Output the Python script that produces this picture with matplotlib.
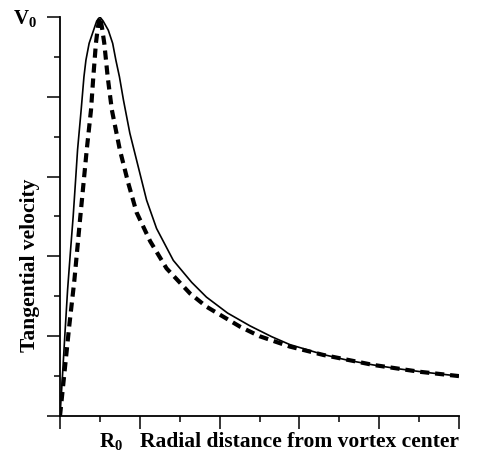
import matplotlib.pyplot as plt
from matplotlib.ticker import MultipleLocator

plt.rcParams["font.family"] = "Liberation Serif"
plt.rcParams["mathtext.fontset"] = "custom"
plt.rcParams["mathtext.rm"] = "Liberation Serif:bold"
plt.rcParams["mathtext.bf"] = "Liberation Serif:bold"

# radius in units of R0, velocity in units of V0
r_solid = [0, 0.05, 0.12, 0.19, 0.26, 0.33, 0.39, 0.44, 0.53, 0.6, 0.65, 0.73,
           0.835, 0.92, 1.0, 1.08, 1.21, 1.32, 1.40, 1.49, 1.59, 1.75, 1.96,
           2.17, 2.42, 2.84, 3.3, 3.67, 4.2, 4.76, 5.3, 5.76, 6.6, 7.2, 7.85,
           8.5, 9.2, 10.0]
v_solid = [0, 0.08, 0.2, 0.316, 0.41, 0.5, 0.59, 0.667, 0.767, 0.85, 0.892, 0.934,
           0.965, 0.99, 1.0, 0.99, 0.967, 0.934, 0.892, 0.85, 0.792, 0.709, 0.625,
           0.541, 0.47, 0.39, 0.335, 0.298, 0.258, 0.226, 0.199, 0.179, 0.154, 0.14, 0.128,
           0.118, 0.109, 0.10]

r_dash = [0, 0.11, 0.23, 0.36, 0.5, 0.67, 0.777, 0.835, 0.9, 0.95, 1.0, 1.05,
          1.11, 1.195, 1.30, 1.5, 1.71, 1.92, 2.26, 2.67, 3.26, 3.67, 4.51, 5.0,
          5.76, 6.6, 7.85, 9.0, 10.0]
v_dash = [0, 0.107, 0.224, 0.34, 0.49, 0.667, 0.767, 0.85, 0.934, 0.975, 1.0, 0.975,
          0.934, 0.85, 0.767, 0.667, 0.584, 0.51, 0.438, 0.37, 0.307, 0.274, 0.224, 0.20,
          0.174, 0.153, 0.128, 0.111, 0.10]

fig = plt.figure(figsize=(4.79, 4.53), dpi=100)
ax = fig.add_axes([60 / 479, 37 / 453, 399 / 479, 399 / 453])

ax.plot(r_solid, v_solid, color="black", lw=1.2)
ax.plot(r_dash, v_dash, color="black", lw=3, dashes=(2.2, 1.4))

ax.set_xlim(0, 10)
ax.set_ylim(0, 1)
ax.spines["top"].set_visible(False)
ax.spines["right"].set_visible(False)
ax.spines["left"].set_linewidth(1.3)
ax.spines["bottom"].set_linewidth(1.3)

ax.xaxis.set_major_locator(MultipleLocator(2))
ax.xaxis.set_minor_locator(MultipleLocator(1))
ax.yaxis.set_major_locator(MultipleLocator(0.2))
ax.yaxis.set_minor_locator(MultipleLocator(0.1))
ax.tick_params(which="major", direction="out", length=9.5, width=1.1,
               labelbottom=False, labelleft=False)
ax.tick_params(which="minor", direction="out", length=4.5, width=1.1)

ax.text(-0.058, 0.995, r"$\mathbf{V_0}$", transform=ax.transAxes,
        ha="right", va="center", fontsize=15)
ax.text(0.98, -0.078, r"$\mathbf{R_0}$", transform=ax.get_xaxis_transform(),
        ha="left", va="baseline", fontsize=15)

ax.text(1.0, -0.078, "Radial distance from vortex center", transform=ax.transAxes,
        ha="right", va="baseline", fontsize=15.5, fontweight="bold")
ax.text(-0.075, 0.378, "Tangential velocity", transform=ax.transAxes,
        ha="center", va="center", rotation=90, fontsize=15.5, fontweight="bold")

fig.savefig("out.png", dpi=100)
